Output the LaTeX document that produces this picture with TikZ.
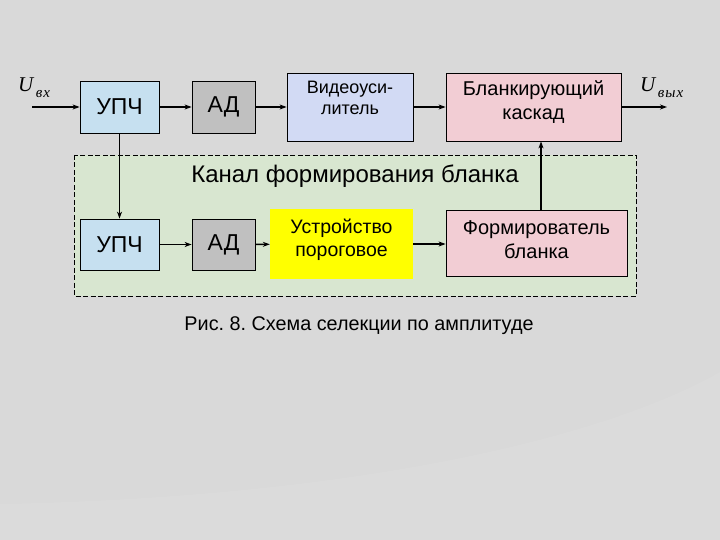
\documentclass[tikz,border=0pt]{standalone}
\usepackage{fontspec}
\setmainfont{Liberation Sans}
\newfontfamily\lserif{Liberation Serif}
\usetikzlibrary{arrows.meta}
\frenchspacing
\definecolor{bgc}{HTML}{D9D9D9}
\definecolor{bgl}{HTML}{DBDBDB}
\definecolor{upc}{HTML}{C6E0F0}
\definecolor{adc}{HTML}{C0C0C0}
\definecolor{vidc}{HTML}{D2DAF4}
\definecolor{pinkc}{HTML}{F2CDD4}
\definecolor{yelc}{HTML}{FFFF00}
\definecolor{chanc}{HTML}{D8E6D0}
\begin{document}
\begin{tikzpicture}[x=1pt,y=-1pt,
  blk/.style={draw=black, line width=0.8pt, inner sep=0pt, align=center, text=black},
  txt/.style={align=center, inner sep=0pt},
  bigtxt/.style={font=\fontsize{23}{26}\selectfont},
  midtxt/.style={font=\fontsize{20}{24}\selectfont},
  arr/.style={-{Stealth[length=7pt,width=5pt]}, line width=1.6pt},
  lbl/.style={inner sep=0pt, anchor=base west}]
\useasboundingbox (0,0) rectangle (720,540);
\fill[bgc] (0,0) rectangle (720,540);
\fill[bgl] (0,504) .. controls (350,497) and (600,440) .. (720,372) -- (720,540) -- (0,540) -- cycle;
% channel region
\draw[fill=chanc, dashed, dash pattern=on 5pt off 2.5pt, line width=0.7pt] (74,155) rectangle (636,296);
\node[font=\fontsize{24}{28}\selectfont, inner sep=0pt] (chan) at (355,176) {Канал формирования бланка};
% top row
\node[blk, fill=upc, bigtxt, minimum width=79pt, minimum height=52pt] (u1) at (119.5,107) {УПЧ};
\node[blk, fill=adc, bigtxt, minimum width=63pt, minimum height=52pt] (a1) at (223.5,107) {АД};
\node[blk, fill=vidc, minimum width=126pt, minimum height=68pt] (v) at (350,107) {};
\node[txt, font=\fontsize{18}{21}\selectfont] (vt) at (350,98) {Видеоуси-\\литель};
\node[blk, fill=pinkc, minimum width=175pt, minimum height=68pt] (b) at (533.5,107) {};
\node[txt, midtxt] (bt) at (533.5,102.5) {Бланкирующий\\каскад};
% bottom row
\node[blk, fill=upc, bigtxt, minimum width=79pt, minimum height=51pt] (u2) at (119.5,244.5) {УПЧ};
\node[blk, fill=adc, bigtxt, minimum width=63pt, minimum height=51pt] (a2) at (223.5,244.5) {АД};
\node[inner sep=0pt, fill=yelc, minimum width=143pt, minimum height=70pt] (y) at (341.5,244) {};
\node[txt, font=\fontsize{19.5}{23}\selectfont] (yt) at (341.5,240) {Устройство\\пороговое};
\node[blk, fill=pinkc, minimum width=181pt, minimum height=66pt] (f) at (536.5,243) {};
\node[txt, midtxt] (ft) at (536.5,240) {Формирователь\\бланка};
% inputs / outputs
\coordinate (in) at (32,107);
\coordinate (out) at (667,107);
\coordinate (vx) at (541,0);
\node[lbl] (uin) at (18,92) {\lserif\itshape\fontsize{21}{21}\selectfont U\fontsize{15}{15}\selectfont\,\raisebox{-6pt}{в\kern1pt х}};
\node[lbl] (uout) at (640,92) {\lserif\itshape\fontsize{21}{21}\selectfont U\fontsize{15}{15}\selectfont\,\raisebox{-6pt}{в\kern1pt ы\kern1pt х}};
% connectors
\draw[arr] (in) -- (u1);
\draw[arr] (u1) -- (a1);
\draw[arr] (a1) -- (v);
\draw[arr] (v) -- (b);
\draw[arr] (b) -- (out);
\draw[arr] (u2) -- (a2);
\draw[arr] (a2) -- (y);
\draw[arr] (y) -- (f.west |- y);
\draw[arr, line width=1.2pt] (u1.south) -- (u2.north);
\draw[arr] (f.north -| vx) -- (b.south -| vx);
% caption
\node[font=\fontsize{19.8}{23}\selectfont, inner sep=0pt] (cap) at (359,326) {Рис. 8. Схема селекции по амплитуде};
\end{tikzpicture}
\end{document}
